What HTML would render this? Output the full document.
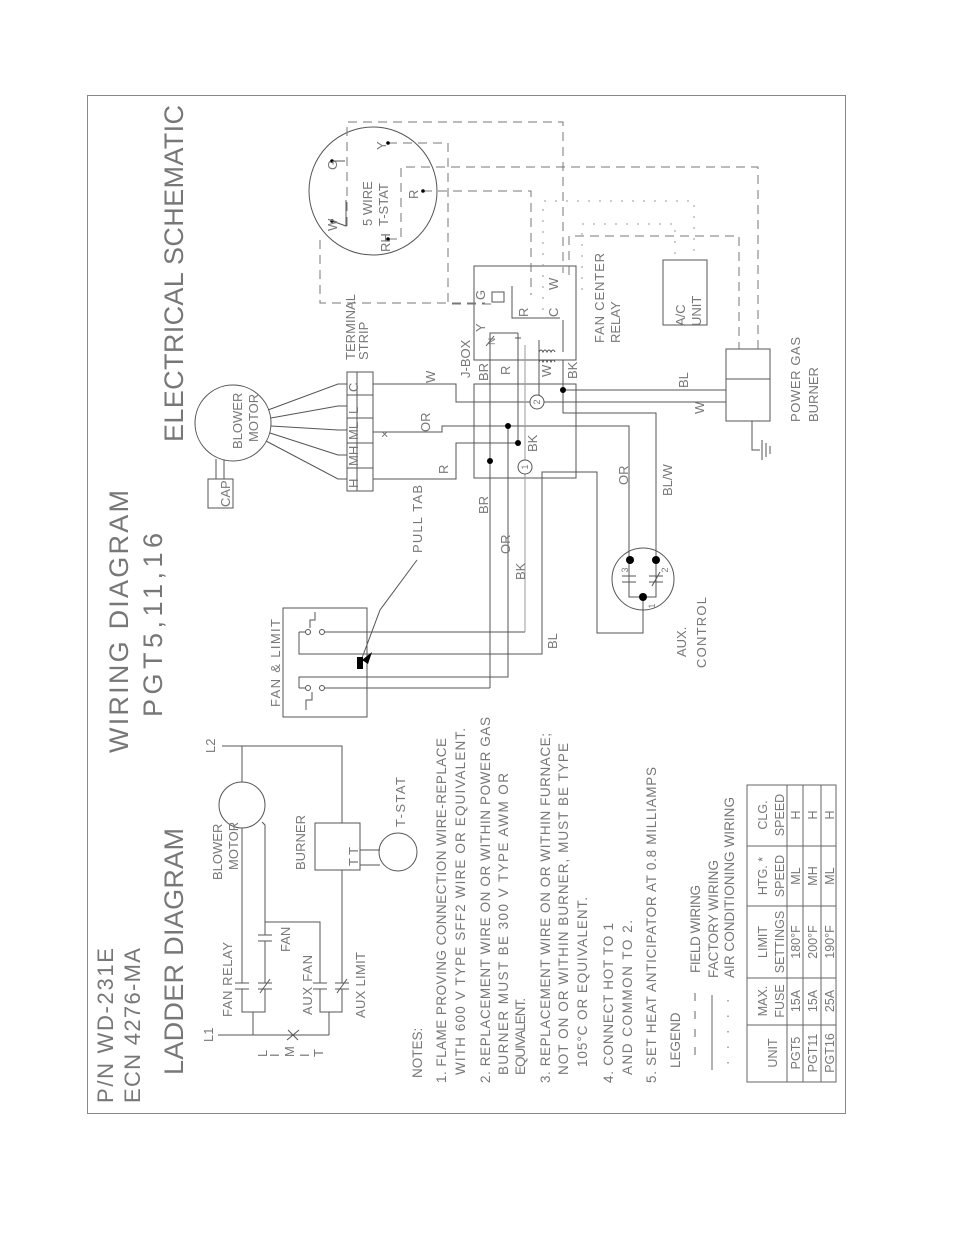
<!DOCTYPE html>
<html><head><meta charset="utf-8"><style>
html,body{margin:0;padding:0;background:#fff}
svg{display:block}
text{font-family:"Liberation Sans",sans-serif;fill:#777}
</style></head><body>
<svg width="954" height="1235" viewBox="0 0 954 1235" xmlns="http://www.w3.org/2000/svg">
<g fill="none" stroke="#555" stroke-width="1">
<rect x="87.5" y="95.5" width="758" height="1018" stroke="#888"/>
<!-- ladder -->
<polyline points="222,746 342,746 342,823"/>
<line x1="242" y1="746" x2="242" y2="782"/>
<circle cx="242" cy="805" r="23"/>
<line x1="242" y1="828" x2="242" y2="983"/>
<polyline points="262,822 265,825 265,935"/>
<line x1="265" y1="941" x2="265" y2="983"/>
<polyline points="265,922 320,922 320,983"/>
<line x1="258" y1="935" x2="272" y2="935"/><line x1="258" y1="941" x2="272" y2="941"/>
<rect x="315" y="823" width="45" height="47"/>
<line x1="342" y1="870" x2="342" y2="983"/>
<polyline points="360,850 380,850"/><polyline points="360,865 380,865"/>
<circle cx="398" cy="852" r="19"/>
<line x1="235" y1="983" x2="249" y2="983"/><line x1="235" y1="989" x2="249" y2="989"/>
<line x1="313" y1="983" x2="327" y2="983"/><line x1="313" y1="989" x2="327" y2="989"/>
<line x1="258" y1="983" x2="272" y2="983"/><line x1="258" y1="989" x2="272" y2="989"/><line x1="260" y1="993" x2="270" y2="979"/>
<line x1="335" y1="983" x2="349" y2="983"/><line x1="335" y1="989" x2="349" y2="989"/><line x1="337" y1="993" x2="347" y2="979"/>
<polyline points="242,989 242,1012 265,1012 265,989"/>
<polyline points="320,989 320,1012 342,1012 342,989"/>
<polyline points="253,1012 253,1035"/><polyline points="329,1012 329,1035"/>
<line x1="218" y1="1035" x2="329" y2="1035"/>
<line x1="288" y1="1030" x2="298" y2="1040"/><line x1="287" y1="1040" x2="299" y2="1030"/>
<!-- fan & limit -->
<rect x="283" y="608" width="84" height="109"/>
<polyline points="299,632 299,654 542,654 542,472 597,472 597,633 643,633 643,597"/>
<polyline points="299,688 299,677 508,677 508,426"/>
<line x1="299" y1="632" x2="305" y2="632"/><line x1="325" y1="632" x2="525" y2="632"/>
<circle cx="308" cy="632" r="2.5"/><circle cx="322" cy="632" r="2.5"/>
<polyline points="310,628 310,620 315,620 315,612"/>
<line x1="299" y1="688" x2="305" y2="688"/><line x1="325" y1="688" x2="490" y2="688"/>
<circle cx="308" cy="688" r="2.5"/><circle cx="322" cy="688" r="2.5"/>
<polyline points="312,692 312,700 306,700 306,710"/>
<!-- terminal strip and motor -->
<circle cx="233" cy="423" r="38"/>
<rect x="347" y="372" width="26" height="119"/>
<line x1="357" y1="372" x2="357" y2="491"/>
<line x1="347" y1="395" x2="373" y2="395"/><line x1="347" y1="418" x2="373" y2="418"/><line x1="347" y1="443" x2="373" y2="443"/><line x1="347" y1="468" x2="373" y2="468"/>
<polyline points="268,410 338,384 347,384"/><polyline points="271,418 338,406 347,406"/><polyline points="271,426 338,430 347,430"/><polyline points="270,433 338,455 347,455"/><polyline points="266,441 338,479 347,479"/>
<polyline points="216,459 216,479"/><polyline points="224,460 224,479"/>
<rect x="208" y="479" width="25" height="29"/>
<polyline points="373,384 456,384 456,402 726,402"/>
<polyline points="373,432 442,432 442,426 629,426 629,560"/>
<polyline points="373,479 456,479 456,443 518,443"/>
<polyline points="563,360 563,413 656,413 656,560"/>
<line x1="563" y1="390" x2="726" y2="390"/>
<!-- jbox -->
<rect x="474" y="266" width="102" height="94"/>
<rect x="474" y="384" width="102" height="94"/>
<line x1="490" y1="340" x2="490" y2="688"/>
<line x1="518" y1="333" x2="518" y2="443"/>
<line x1="525" y1="345" x2="525" y2="632" stroke="#999"/>
<polyline points="490,340 490,333 518,333"/>
<line x1="486" y1="346" x2="494" y2="336"/>
<line x1="515" y1="338" x2="521" y2="338"/>
<line x1="539" y1="340" x2="539" y2="395"/>
<path d="M539 352 q2-4 4 0 q2-4 4 0 q2-4 4 0 q2-4 4 0 M539 362 q2-4 4 0 q2-4 4 0 q2-4 4 0 q2-4 4 0"/>
<line x1="563" y1="320" x2="563" y2="352"/>
<polyline points="512,286 512,318 560,318"/>
<rect x="492" y="292" width="12" height="10"/>
<circle cx="537" cy="402" r="7" fill="#fff"/>
<circle cx="525" cy="467" r="7" fill="#fff"/>
<rect x="663" y="260" width="44" height="65"/>
<rect x="726" y="349" width="44" height="72"/>
<line x1="726" y1="379" x2="770" y2="379"/>
<polyline points="752,421 752,450 760,450"/>
<line x1="762" y1="440" x2="762" y2="460"/><line x1="766" y1="443" x2="766" y2="457"/><line x1="770" y1="446" x2="770" y2="454"/>
<circle cx="643" cy="579" r="31"/>
<polyline points="629,560 629,597 656,597 656,560"/>
<line x1="622" y1="576" x2="636" y2="576"/><line x1="622" y1="582" x2="636" y2="582"/>
<line x1="649" y1="576" x2="663" y2="576"/><line x1="649" y1="582" x2="663" y2="582"/><line x1="652" y1="586" x2="660" y2="572"/>
<polyline points="417,560 380,610 362,658"/>
<circle cx="373" cy="191" r="64"/>
<polyline points="332,161 345,161"/><polyline points="332,221 346,226 346,200"/>
</g>
<g stroke="#777" stroke-width="1" fill="none" stroke-dasharray="9,6">
<polyline points="347,226 347,122 563,122 563,273"/>
<polyline points="320,240 320,303 485,303"/>
<polyline points="388,143 448,143 448,304 497,304"/>
<polyline points="388,239 401,239 401,167 758,167 758,349"/>
<polyline points="423,191 531,191 531,295"/>
<polyline points="569,275 569,236 739,236 739,349"/>
</g>
<g stroke="#999" stroke-width="1" fill="none" stroke-dasharray="2,9">
<polyline points="543,310 543,201 694,201 694,260"/>
<polyline points="582,290 582,224 675,224 675,260"/>
</g>
<g fill="#000">
<circle cx="332" cy="161" r="1.8"/><circle cx="332" cy="221" r="1.8"/><circle cx="388" cy="143" r="1.8"/><circle cx="388" cy="239" r="1.8"/><circle cx="423" cy="191" r="1.8"/>
<circle cx="508" cy="426" r="3"/><circle cx="518" cy="443" r="3"/><circle cx="490" cy="461" r="3"/><circle cx="563" cy="390" r="3"/>
<circle cx="630" cy="560" r="4"/><circle cx="656" cy="560" r="4"/><circle cx="643" cy="597" r="4"/>
<rect x="357" y="657" width="6" height="12"/>
<polygon points="362,660 372,652 368,664"/>
</g>
<g font-size="27">
<text transform="translate(183 442) rotate(-90)" textLength="337" lengthAdjust="spacing">ELECTRICAL SCHEMATIC</text>
<text transform="translate(128 753) rotate(-90)" textLength="263" lengthAdjust="spacing">WIRING DIAGRAM</text>
<text transform="translate(162 717) rotate(-90)" textLength="184" lengthAdjust="spacing">PGT5,11,16</text>
<text transform="translate(183 1075) rotate(-90)" textLength="247" lengthAdjust="spacing">LADDER DIAGRAM</text>
</g>
<g font-size="22">
<text transform="translate(113 1103) rotate(-90)" textLength="155" lengthAdjust="spacing">P/N WD-231E</text>
<text transform="translate(140 1103) rotate(-90)" textLength="155" lengthAdjust="spacing">ECN 4276-MA</text>
</g>
<g font-size="13.5">
<text transform="translate(422 1078) rotate(-90)">NOTES:</text>
<text transform="translate(446 1083) rotate(-90)" textLength="345" lengthAdjust="spacing">1. FLAME PROVING CONNECTION WIRE-REPLACE</text>
<text transform="translate(465 1075) rotate(-90)" textLength="347" lengthAdjust="spacing">WITH 600 V TYPE SFF2 WIRE OR EQUIVALENT.</text>
<text transform="translate(490 1083) rotate(-90)" textLength="366" lengthAdjust="spacing">2. REPLACEMENT WIRE ON OR WITHIN POWER GAS</text>
<text transform="translate(508 1075) rotate(-90)" textLength="302" lengthAdjust="spacing">BURNER MUST BE 300 V TYPE AWM OR</text>
<text transform="translate(525 1075) rotate(-90)" textLength="77" lengthAdjust="spacing">EQUIVALENT.</text>
<text transform="translate(550 1083) rotate(-90)" textLength="350" lengthAdjust="spacing">3. REPLACEMENT WIRE ON OR WITHIN FURNACE;</text>
<text transform="translate(568 1075) rotate(-90)" textLength="332" lengthAdjust="spacing">NOT ON OR WITHIN BURNER, MUST BE TYPE</text>
<text transform="translate(587 1067) rotate(-90)" textLength="170" lengthAdjust="spacing">105°C OR EQUIVALENT.</text>
<text transform="translate(613 1083) rotate(-90)" textLength="160" lengthAdjust="spacing">4. CONNECT HOT TO 1</text>
<text transform="translate(632 1075) rotate(-90)" textLength="155" lengthAdjust="spacing">AND COMMON TO 2.</text>
<text transform="translate(656 1083) rotate(-90)" textLength="316" lengthAdjust="spacing">5. SET HEAT ANTICIPATOR AT 0.8 MILLIAMPS</text>
<text transform="translate(680 1068) rotate(-90)">LEGEND</text>
<text transform="translate(700 973) rotate(-90)" textLength="88" lengthAdjust="spacing">FIELD WIRING</text>
<text transform="translate(718 978) rotate(-90)" textLength="118" lengthAdjust="spacing">FACTORY WIRING</text>
<text transform="translate(734 978) rotate(-90)" textLength="181" lengthAdjust="spacing">AIR CONDITIONING WIRING</text>
</g>
<g stroke="#666" fill="none">
<line x1="695" y1="993" x2="695" y2="1063" stroke-dasharray="8,10"/>
<line x1="712" y1="995" x2="712" y2="1070"/>
<line x1="728" y1="1000" x2="728" y2="1073" stroke-dasharray="1.5,14"/>
<rect x="747" y="785" width="89" height="297"/>
<line x1="787" y1="785" x2="787" y2="1082"/><line x1="803" y1="785" x2="803" y2="1082"/><line x1="821" y1="785" x2="821" y2="1082"/>
<line x1="747" y1="1025" x2="836" y2="1025"/><line x1="747" y1="978" x2="836" y2="978"/><line x1="747" y1="906" x2="836" y2="906"/><line x1="747" y1="846" x2="836" y2="846"/>
</g>
<g font-size="12.5" text-anchor="middle">
<text transform="translate(777 1053) rotate(-90)">UNIT</text>
<text transform="translate(767 1001) rotate(-90)">MAX.</text><text transform="translate(784 1001) rotate(-90)">FUSE</text>
<text transform="translate(767 942) rotate(-90)">LIMIT</text><text transform="translate(784 942) rotate(-90)">SETTINGS</text>
<text transform="translate(767 876) rotate(-90)">HTG. *</text><text transform="translate(784 876) rotate(-90)">SPEED</text>
<text transform="translate(767 815) rotate(-90)">CLG.</text><text transform="translate(784 815) rotate(-90)">SPEED</text>
<text transform="translate(800 1053) rotate(-90)">PGT5</text><text transform="translate(800 1001) rotate(-90)">15A</text><text transform="translate(800 942) rotate(-90)">180°F</text><text transform="translate(800 876) rotate(-90)">ML</text><text transform="translate(800 815) rotate(-90)">H</text>
<text transform="translate(817 1053) rotate(-90)">PGT11</text><text transform="translate(817 1001) rotate(-90)">15A</text><text transform="translate(817 942) rotate(-90)">200°F</text><text transform="translate(817 876) rotate(-90)">MH</text><text transform="translate(817 815) rotate(-90)">H</text>
<text transform="translate(834 1053) rotate(-90)">PGT16</text><text transform="translate(834 1001) rotate(-90)">25A</text><text transform="translate(834 942) rotate(-90)">190°F</text><text transform="translate(834 876) rotate(-90)">ML</text><text transform="translate(834 815) rotate(-90)">H</text>
</g>
<g font-size="13">
<text transform="translate(215 753) rotate(-90)">L2</text>
<text transform="translate(213 1042) rotate(-90)">L1</text>
<text transform="translate(232 1017) rotate(-90)" textLength="75" lengthAdjust="spacing">FAN RELAY</text>
<text transform="translate(222 880) rotate(-90)">BLOWER</text>
<text transform="translate(238 870) rotate(-90)">MOTOR</text>
<text transform="translate(290 952) rotate(-90)">FAN</text>
<text transform="translate(312 1015) rotate(-90)" textLength="60" lengthAdjust="spacing">AUX FAN</text>
<text transform="translate(365 1018) rotate(-90)" textLength="66" lengthAdjust="spacing">AUX LIMIT</text>
<text transform="translate(305 870) rotate(-90)" textLength="55" lengthAdjust="spacing">BURNER</text>
<text transform="translate(358 866) rotate(-90)">T T</text>
<text transform="translate(405 827) rotate(-90)" textLength="50" lengthAdjust="spacing">T-STAT</text>
<text transform="translate(267 1057) rotate(-90)">L</text><text transform="translate(279 1057) rotate(-90)">I</text><text transform="translate(294 1057) rotate(-90)">M</text><text transform="translate(309 1057) rotate(-90)">I</text><text transform="translate(323 1057) rotate(-90)">T</text>
<text transform="translate(280 707) rotate(-90)" textLength="88" lengthAdjust="spacing">FAN &amp; LIMIT</text>
<text transform="translate(422 553) rotate(-90)" textLength="68" lengthAdjust="spacing">PULL TAB</text>
<text transform="translate(355 360) rotate(-90)" textLength="66" lengthAdjust="spacing">TERMINAL</text>
<text transform="translate(368 360) rotate(-90)">STRIP</text>
<text transform="translate(470 378) rotate(-90)">J-BOX</text>
<text transform="translate(604 343) rotate(-90)" textLength="90" lengthAdjust="spacing">FAN CENTER</text>
<text transform="translate(620 343) rotate(-90)">RELAY</text>
<text transform="translate(685 326) rotate(-90)">A/C</text>
<text transform="translate(701 326) rotate(-90)">UNIT</text>
<text transform="translate(800 422) rotate(-90)" textLength="85" lengthAdjust="spacing">POWER GAS</text>
<text transform="translate(818 422) rotate(-90)">BURNER</text>
<text transform="translate(686 657) rotate(-90)">AUX.</text>
<text transform="translate(706 668) rotate(-90)" textLength="71" lengthAdjust="spacing">CONTROL</text>
<text transform="translate(242 449) rotate(-90)">BLOWER</text>
<text transform="translate(258 442) rotate(-90)">MOTOR</text>
<text transform="translate(230 507) rotate(-90)">CAP</text>
<text transform="translate(358 392) rotate(-90)">C</text><text transform="translate(358 414) rotate(-90)">L</text><text transform="translate(358 440) rotate(-90)">ML</text><text transform="translate(358 466) rotate(-90)">MH</text><text transform="translate(358 488) rotate(-90)">H</text>
<text transform="translate(372 226) rotate(-90)">5 WIRE</text>
<text transform="translate(388 226) rotate(-90)">T-STAT</text>
<text transform="translate(337 170) rotate(-90)">G</text><text transform="translate(337 231) rotate(-90)">W</text>
<text transform="translate(390 252) rotate(-90)">RH</text><text transform="translate(386 150) rotate(-90)">Y</text><text transform="translate(418 199) rotate(-90)">R</text>
<text transform="translate(435 383) rotate(-90)">W</text>
<text transform="translate(430 432) rotate(-90)">OR</text>
<text transform="translate(389 438) rotate(-90)">×</text>
<text transform="translate(448 474) rotate(-90)">R</text>
<text transform="translate(488 381) rotate(-90)">BR</text>
<text transform="translate(510 375) rotate(-90)">R</text>
<text transform="translate(551 377) rotate(-90)">W</text>
<text transform="translate(577 379) rotate(-90)">BK</text>
<text transform="translate(688 388) rotate(-90)">BL</text>
<text transform="translate(704 414) rotate(-90)">W</text>
<text transform="translate(537 452) rotate(-90)">BK</text>
<text transform="translate(628 485) rotate(-90)">OR</text>
<text transform="translate(672 496) rotate(-90)">BL/W</text>
<text transform="translate(488 514) rotate(-90)">BR</text>
<text transform="translate(510 554) rotate(-90)">OR</text>
<text transform="translate(525 580) rotate(-90)">BK</text>
<text transform="translate(557 649) rotate(-90)">BL</text>
<text transform="translate(485 300) rotate(-90)">G</text><text transform="translate(485 332) rotate(-90)">Y</text>
<text transform="translate(528 317) rotate(-90)">R</text><text transform="translate(558 317) rotate(-90)">C</text><text transform="translate(558 290) rotate(-90)">W</text>
<text transform="translate(495 345) rotate(-90)" font-size="10">N</text>
</g>
<g font-size="9" text-anchor="middle">
<text transform="translate(540 402) rotate(-90)">2</text>
<text transform="translate(528 467) rotate(-90)">1</text>
<text transform="translate(628 570) rotate(-90)">3</text>
<text transform="translate(668 570) rotate(-90)">2</text>
<text transform="translate(655 606) rotate(-90)">1</text>
</g>
</svg>
</body></html>
